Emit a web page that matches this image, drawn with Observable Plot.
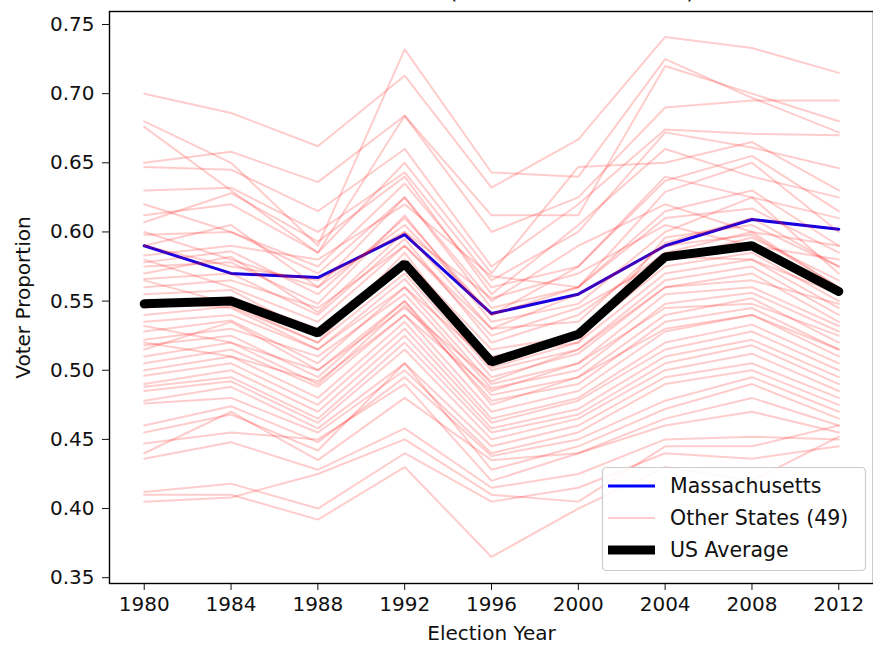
<!DOCTYPE html>
<html>
<head>
<meta charset="utf-8">
<script src="https://cdn.jsdelivr.net/npm/d3@7"></script>
<script src="https://cdn.jsdelivr.net/npm/@observablehq/plot@0.6"></script>
<style>
  html, body { margin: 0; padding: 0; background: white; }
  #chart { width: 873px; height: 646px; overflow: hidden; }
  svg { overflow: visible; }
</style>
</head>
<body>
<div id="chart"></div>
<script>
const titleText = "Voter Turnout (MA vs. Other States)";
const years = [1980, 1984, 1988, 1992, 1996, 2000, 2004, 2008, 2012];
const yTicks = [0.35, 0.40, 0.45, 0.50, 0.55, 0.60, 0.65, 0.70, 0.75];
const legendLabels = ["Massachusetts", "Other States (49)", "US Average"];

const massachusetts = [0.590, 0.570, 0.567, 0.598, 0.541, 0.555, 0.590, 0.609, 0.602];
const usAverage     = [0.548, 0.550, 0.527, 0.577, 0.506, 0.526, 0.582, 0.590, 0.557];

const otherStates = [
  [0.700,0.686,0.662,0.713,0.632,0.667,0.741,0.733,0.715],
  [0.680,0.650,0.590,0.732,0.643,0.640,0.725,0.697,0.672],
  [0.676,0.630,0.585,0.684,0.612,0.612,0.720,0.700,0.680],
  [0.650,0.658,0.636,0.684,0.600,0.625,0.690,0.695,0.695],
  [0.647,0.645,0.615,0.660,0.575,0.620,0.674,0.671,0.670],
  [0.630,0.632,0.600,0.643,0.565,0.600,0.672,0.661,0.646],
  [0.612,0.620,0.585,0.650,0.570,0.647,0.650,0.665,0.630],
  [0.607,0.628,0.593,0.640,0.555,0.605,0.660,0.640,0.625],
  [0.598,0.600,0.575,0.635,0.560,0.575,0.637,0.655,0.615],
  [0.590,0.605,0.560,0.625,0.545,0.560,0.629,0.650,0.600],
  [0.583,0.590,0.580,0.620,0.568,0.560,0.615,0.630,0.590],
  [0.578,0.586,0.555,0.610,0.540,0.560,0.610,0.617,0.585],
  [0.575,0.578,0.548,0.612,0.535,0.548,0.600,0.625,0.570],
  [0.570,0.582,0.542,0.600,0.530,0.535,0.592,0.610,0.575],
  [0.566,0.570,0.540,0.595,0.520,0.540,0.585,0.600,0.560],
  [0.560,0.565,0.545,0.590,0.525,0.545,0.580,0.596,0.565],
  [0.555,0.558,0.525,0.580,0.515,0.525,0.575,0.585,0.550],
  [0.545,0.553,0.530,0.575,0.510,0.520,0.570,0.580,0.545],
  [0.540,0.546,0.520,0.570,0.500,0.515,0.565,0.575,0.540],
  [0.535,0.540,0.515,0.566,0.495,0.512,0.560,0.570,0.535],
  [0.528,0.536,0.505,0.560,0.490,0.505,0.555,0.560,0.532],
  [0.522,0.530,0.510,0.555,0.487,0.500,0.548,0.556,0.528],
  [0.518,0.525,0.495,0.550,0.482,0.495,0.540,0.552,0.520],
  [0.510,0.520,0.490,0.547,0.478,0.490,0.535,0.545,0.515],
  [0.505,0.515,0.488,0.540,0.470,0.485,0.528,0.540,0.510],
  [0.500,0.510,0.480,0.535,0.465,0.480,0.520,0.533,0.505],
  [0.496,0.505,0.475,0.530,0.462,0.478,0.515,0.528,0.500],
  [0.490,0.500,0.470,0.525,0.458,0.472,0.510,0.522,0.495],
  [0.488,0.495,0.465,0.520,0.455,0.468,0.505,0.518,0.490],
  [0.485,0.492,0.462,0.515,0.450,0.465,0.500,0.512,0.485],
  [0.478,0.488,0.458,0.505,0.445,0.460,0.495,0.505,0.480],
  [0.476,0.480,0.455,0.500,0.440,0.455,0.490,0.500,0.475],
  [0.460,0.474,0.448,0.495,0.438,0.450,0.478,0.495,0.470],
  [0.455,0.468,0.442,0.505,0.428,0.445,0.472,0.490,0.465],
  [0.447,0.455,0.450,0.490,0.420,0.440,0.465,0.480,0.460],
  [0.440,0.470,0.435,0.480,0.435,0.440,0.460,0.470,0.455],
  [0.436,0.448,0.428,0.458,0.415,0.425,0.450,0.452,0.450],
  [0.412,0.418,0.400,0.440,0.405,0.415,0.440,0.436,0.445],
  [0.410,0.410,0.392,0.430,0.365,0.400,0.430,0.420,0.452],
  [0.405,0.408,0.425,0.450,0.410,0.405,0.445,0.445,0.460],
  [0.620,0.600,0.570,0.625,0.550,0.590,0.620,0.600,0.590],
  [0.590,0.575,0.565,0.600,0.552,0.570,0.605,0.590,0.580],
  [0.580,0.560,0.535,0.590,0.530,0.555,0.590,0.598,0.560],
  [0.550,0.545,0.515,0.560,0.505,0.528,0.582,0.580,0.555],
  [0.532,0.520,0.500,0.545,0.492,0.515,0.560,0.565,0.548],
  [0.520,0.510,0.492,0.540,0.485,0.505,0.545,0.548,0.525],
  [0.515,0.535,0.500,0.550,0.475,0.495,0.530,0.540,0.515],
  [0.565,0.548,0.520,0.585,0.502,0.520,0.596,0.605,0.575],
  [0.600,0.580,0.560,0.605,0.540,0.575,0.640,0.625,0.610]
];

const maRows = years.map((year, i) => ({year, value: massachusetts[i]}));
const usRows = years.map((year, i) => ({year, value: usAverage[i]}));
const stateRows = otherStates.flatMap((vals, s) => vals.map((value, i) => ({state: s, year: years[i], value})));

const chart = Plot.plot({
  width: 873,
  height: 646,
  marginLeft: 109,
  marginRight: 0,
  marginTop: 11,
  marginBottom: 63,
  style: {fontFamily: "DejaVu Sans", fontSize: "20px", background: "white", color: "#111", overflow: "visible"},
  x: {domain: [1978.4, 2013.6]},
  y: {domain: [0.3458, 0.7594]},
  marks: [
    Plot.line(maRows, {x: "year", y: "value", stroke: "#1a00e0", strokeWidth: 3}),
    Plot.line(stateRows, {x: "year", y: "value", z: "state", stroke: "red", strokeOpacity: 0.2, strokeWidth: 2}),
    Plot.line(usRows, {x: "year", y: "value", stroke: "black", strokeWidth: 9, strokeLinejoin: "miter"}),
    Plot.frame({stroke: "black", strokeWidth: 1.4}),
    Plot.axisX({ticks: years, tickFormat: d => String(d), tickSize: 7, tickPadding: 6, label: "Election Year", labelAnchor: "center", labelOffset: 56, labelArrow: "none"}),
    Plot.axisY({ticks: yTicks, tickFormat: d => d.toFixed(2), tickSize: 7, tickPadding: 8, label: "Voter Proportion", labelAnchor: "center", labelOffset: 94, labelArrow: "none"})
  ]
});

document.getElementById("chart").appendChild(chart);

const svg = d3.select(chart);
// title sits above the axes; in the reference only its bottom edge is visible
svg.append("text")
  .attr("x", 491).attr("y", -1)
  .attr("text-anchor", "middle")
  .attr("font-size", 23)
  .attr("fill", "#111")
  .text(titleText);

// legend
const lg = svg.append("g").attr("text-anchor", "start");
lg.append("rect")
  .attr("x", 602.5).attr("y", 467.5).attr("width", 263).attr("height", 103)
  .attr("rx", 4).attr("fill", "white").attr("fill-opacity", 0.85)
  .attr("stroke", "#cccccc").attr("stroke-width", 1.2);
const entries = [
  {label: legendLabels[0], color: "#0000ff", opacity: 1, width: 3, cy: 486},
  {label: legendLabels[1], color: "red", opacity: 0.2, width: 2, cy: 518},
  {label: legendLabels[2], color: "black", opacity: 1, width: 9, cy: 550}
];
for (const e of entries) {
  lg.append("line")
    .attr("x1", 608).attr("x2", 655).attr("y1", e.cy).attr("y2", e.cy)
    .attr("stroke", e.color).attr("stroke-opacity", e.opacity).attr("stroke-width", e.width);
  lg.append("text")
    .attr("x", 670).attr("y", e.cy).attr("dy", "0.35em")
    .attr("text-anchor", "start")
    .attr("font-size", 20.5).attr("fill", "#111")
    .text(e.label);
}
</script>
</body>
</html>
